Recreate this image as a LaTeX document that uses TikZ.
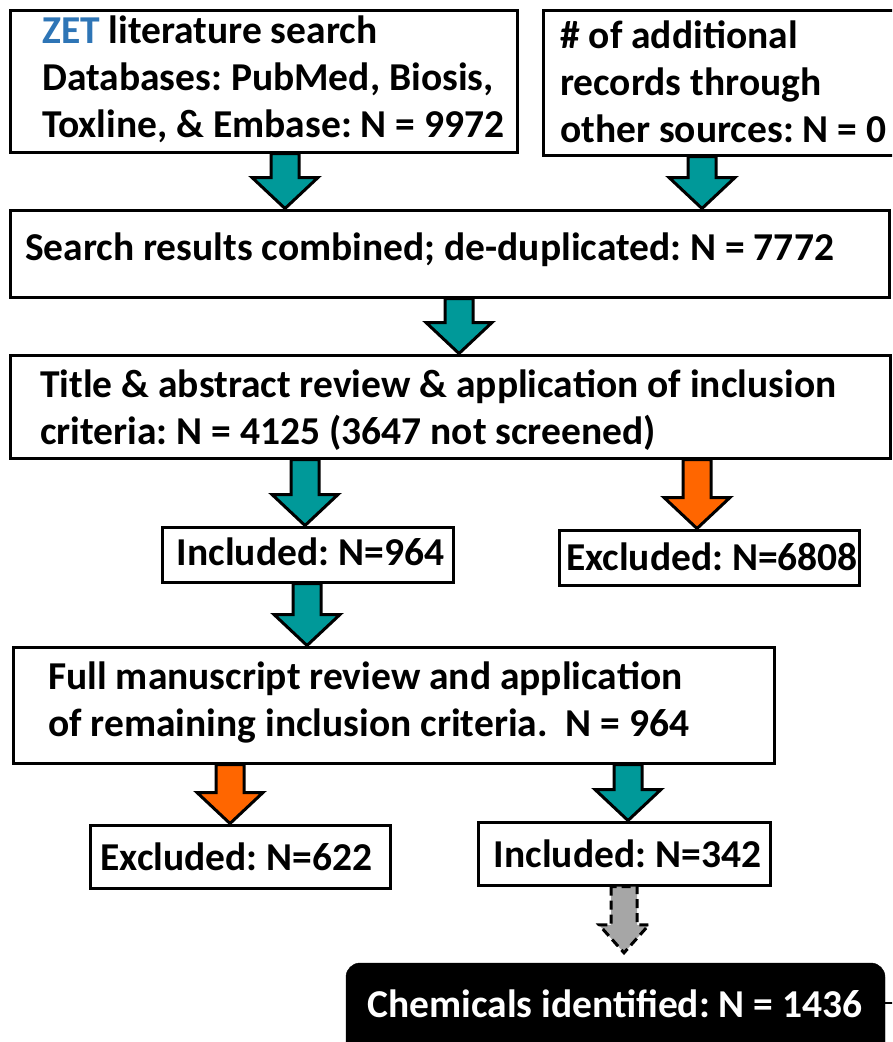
\documentclass[tikz,border=0pt]{standalone}
\usepackage{fontspec}
\setmainfont{Carlito}
\usetikzlibrary{calc}
\frenchspacing
\definecolor{tealA}{RGB}{0,153,153}
\definecolor{orangeA}{RGB}{255,102,0}
\definecolor{grayA}{RGB}{166,166,166}
\definecolor{zetblue}{RGB}{46,117,182}
\tikzset{
  box/.style={draw=black,line width=3pt,fill=white,inner sep=0pt},
  txt/.style={inner sep=0pt,font=\fontsize{39.5}{47}\selectfont\bfseries},
  arrowline/.style={draw=black,line width=3pt,line join=miter},
}
\newcommand\barrow[5]{%
  \draw[arrowline,fill=#4,#5] let \p1=(#2.south), \p2=(#3.north) in
   (#1pt-14pt,\y1) -- (#1pt-14pt,\y2+31pt) -- (#1pt-33pt,\y2+31pt) -- (#1pt,\y2)
   -- (#1pt+33pt,\y2+31pt) -- (#1pt+14pt,\y2+31pt) -- (#1pt+14pt,\y1) -- cycle;}
\begin{document}
\begin{tikzpicture}[x=1pt,y=-1pt]
\clip (0,0) rectangle (892,1042);
\useasboundingbox (0,0) rectangle (892,1042);
% boxes
\node[box,minimum width=507pt,minimum height=142pt] (A) at (263.5,81) {};
\node[txt,anchor=west,align=left] (Atxt) at (42,79) {\textcolor{zetblue}{ZET} literature search\\Databases: PubMed, Biosis,\\Toxline, \& Embase: N = 9972};
\node[box,minimum width=357pt,minimum height=145pt] (B) at (721.5,82.5) {};
\node[txt,anchor=west,align=left] (Btxt) at (560,81.5) {\# of additional\\records through\\other sources: N = 0};
\node[box,minimum width=879pt,minimum height=87pt] (C) at (449.5,253.5) {};
\node[txt,anchor=west] (Ctxt) at (25,250) {Search results combined; de-duplicated: N = 7772};
\node[box,minimum width=880pt,minimum height=103pt] (D) at (450,406.5) {};
\node[txt,anchor=west,align=left] (Dtxt) at (40,410) {Title \& abstract review \& application of inclusion\\criteria: N = 4125 (3647 not screened)};
\node[box,minimum width=291pt,minimum height=55pt] (E) at (307.5,554.5) {};
\node[txt] (Etxt) at (310.5,552) {Included: N=964};
\node[box,minimum width=300pt,minimum height=55pt] (F) at (709,557.5) {};
\node[txt] (Ftxt) at (712,557) {Excluded: N=6808};
\node[box,minimum width=761pt,minimum height=116pt] (G) at (393.5,705) {};
\node[txt,anchor=west,align=left] (Gtxt) at (48,702) {Full manuscript review and application\\of remaining inclusion criteria.\ \ N = 964};
\node[box,minimum width=300pt,minimum height=63pt] (H) at (240,856.5) {};
\node[txt] (Htxt) at (236.5,857) {Excluded: N=622};
\node[box,minimum width=292pt,minimum height=63pt] (I) at (624,853.5) {};
\node[txt] (Itxt) at (627.5,854) {Included: N=342};
\node[draw=black,fill=black,rounded corners=14pt,minimum width=539pt,minimum height=110pt,inner sep=0pt] (J) at (615.5,1018) {};
\node[txt,text=white] (Jtxt) at (615,1004) {Chemicals identified: N = 1436};
\coordinate (Jout) at (895,1003);
\draw[line width=2.5pt] (J.east |- Jout) ++(-2,0) -- (Jout);
% arrows
\barrow{285}{A}{C}{tealA}{}
\barrow{702}{B}{C}{tealA}{}
\barrow{459}{C}{D}{tealA}{}
\barrow{305}{D}{E}{tealA}{}
\barrow{697}{D}{F}{orangeA}{}
\barrow{307}{E}{G}{tealA}{}
\barrow{230}{G}{H}{orangeA}{}
\barrow{628}{G}{I}{tealA}{}
\draw[arrowline,fill=grayA,dashed,dash pattern=on 9pt off 5pt] let \p1=(I.south), \p2=(J.north) in
   (624pt-13pt,\y1) -- (624pt-13pt,\y2+38pt) -- (624pt-25pt,\y2+38pt) -- (624pt,\y2+10pt)
   -- (624pt+25pt,\y2+38pt) -- (624pt+13pt,\y2+38pt) -- (624pt+13pt,\y1) -- cycle;
\end{tikzpicture}
\end{document}
